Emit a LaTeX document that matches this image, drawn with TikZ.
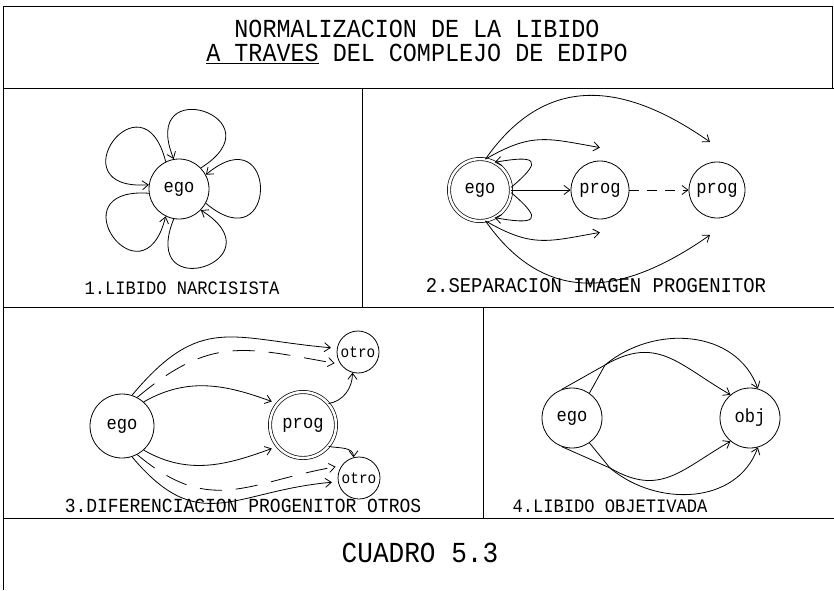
\documentclass[tikz,border=0pt]{standalone}
\usepackage{fontspec}
\newfontfamily\plotter[FakeStretch=0.9]{Liberation Mono}
\usetikzlibrary{arrows.meta,positioning,calc}

\begin{document}
\begin{tikzpicture}[x=1pt,y=1pt,line width=0.8pt,>={Straight Barb[length=6pt,width=9pt]},
	circ/.style={draw,circle,inner sep=0pt,minimum size=60pt,font=\plotter\fontsize{19}{19}\selectfont},
	dcirc/.style={circ,double,double distance=2.5pt,line width=0.7pt},
	small/.style={circ,minimum size=42pt,font=\plotter\fontsize{16}{16}\selectfont},
	lbl/.style={font=\plotter\fontsize{19}{20}\selectfont},
	ttl/.style={font=\plotter\fontsize{26}{27}\selectfont},
	frame/.style={line width=1pt}]
			\useasboundingbox (0,0) rectangle (834,-590);
			\draw[line width=0.6pt] (3,-590) -- (3,-6);
			\draw[frame] (3,-6) -- (832,-6) -- (832,-88);
			\draw[frame] (3,-88) -- (834,-88);
			\draw[frame] (3,-307) -- (834,-307);
			\draw[frame] (3,-518) -- (834,-518);
			\draw[frame] (362,-88) -- (362,-307);
			\draw[frame] (483,-307) -- (483,-518);
			\node[ttl] (t1) at (417,-29) {NORMALIZACION DE LA LIBIDO};
			\node[ttl] (t2) at (417,-54) {\underline{A TRAVES} DEL COMPLEJO DE EDIPO};
			\node[ttl,font=\plotter\fontsize{29}{30}\selectfont] (cuadro) at (420,-553) {CUADRO 5.3};
			% 1
			\node[circ] (ego1) at (179,-189) {ego};
			\foreach \a/\b in {-28/28,44/100,116/172,188/244,260/316}
			\draw[->] (ego1.\a) .. controls +(\a-12:95) and +(\b+12:95) .. (ego1.\b);
			\node[lbl] (l1) at (182,-288) {1.LIBIDO NARCISISTA};
			% 2
			\node[dcirc,minimum size=62pt] (ego2) at (480,-190) {ego};
			\node[circ,minimum size=58pt] (prog2a) at (600,-190) {prog};
			\node[circ,minimum size=56pt] (prog2b) at (717,-190) {prog};
			\coordinate[above=13pt of prog2a] (p2a);
			\coordinate[below=13pt of prog2a] (p2c);
			\coordinate (p2b) at ($(prog2b)+(-7,48)$);
			\coordinate (p2d) at ($(prog2b)+(-7,-45)$);
			\draw[->] (ego2) -- (prog2a);
			\draw[->,dash pattern=on 10pt off 8pt] (prog2a) -- (prog2b);
			\draw[->] (ego2.5) .. controls +(40:45) and +(10:40) .. (ego2.62);
			\draw[->] (ego2.-5) .. controls +(-40:45) and +(-10:40) .. (ego2.-62);
			\draw[->] (ego2.80) to[out=30,in=170,looseness=1.2] (p2a);
			\draw[->] (ego2.80) to[out=55,in=145,looseness=1.2] (p2b);
			\draw[->] (ego2.-80) to[out=-30,in=-170,looseness=1.2] (p2c);
			\draw[->] (ego2.-80) to[out=-55,in=-145,looseness=1.2] (p2d);
			\node[lbl,font=\plotter\fontsize{21}{22}\selectfont] (l2) at (596,-286) {2.SEPARACION IMAGEN PROGENITOR};
			% 3
			\node[circ,minimum size=64pt] (ego3) at (122,-426) {ego};
			\node[dcirc,minimum size=66pt] (prog3) at (303,-425) {prog};
			\node[small] (otro3a) at (358,-352) {otro};
			\node[small] (otro3b) at (359,-478) {otro};
			\draw[->,shorten >=6pt] (ego3.72) to[out=50,in=175,looseness=1.3] (otro3a.170);
			\draw[->,shorten >=6pt,dash pattern=on 22pt off 14pt] (ego3.62) to[out=40,in=170,looseness=1.2] (otro3a.215);
			\draw[->,shorten >=6pt] (ego3.48) to[out=30,in=160] (prog3.140);
			\draw[->] (prog3.40) to[out=10,in=-90] (otro3a.-105);
			\draw[->] (prog3.-40) to[out=-10,in=90] (otro3b.105);
			\draw[->,shorten >=6pt] (ego3.-48) to[out=-30,in=-160] (prog3.-140);
			\draw[->,shorten >=6pt,dash pattern=on 22pt off 14pt] (ego3.-62) to[out=-40,in=-170,looseness=1.2] (otro3b.145);
			\draw[->,shorten >=6pt] (ego3.-72) to[out=-50,in=-175,looseness=1.3] (otro3b.-170);
			\node[lbl,font=\plotter\fontsize{20}{21}\selectfont] (l3) at (243,-506) {3.DIFERENCIACION PROGENITOR OTROS};
			% 4
			\node[circ] (ego4) at (572,-418) {ego};
			\node[circ] (obj4) at (750,-418) {obj};
			\coordinate (j4a) at ($(ego4)+(33,53)$);
			\coordinate (j4b) at ($(ego4)+(38,-50)$);
			\draw (ego4.110) -- (j4a);
			\draw (ego4.55) -- (j4a);
			\draw (ego4.-110) -- (j4b);
			\draw (ego4.-55) -- (j4b);
			\draw[->] (j4a) to[out=40,in=110,looseness=1.05] (obj4.75);
			\draw[->] (j4a) to[out=30,in=150,looseness=1.2] (obj4.130);
			\draw[->] (j4b) to[out=-40,in=-110,looseness=1.05] (obj4.-75);
			\draw[->] (j4b) to[out=-30,in=-150,looseness=1.2] (obj4.-130);
			\node[lbl] (l4) at (610,-506) {4.LIBIDO OBJETIVADA};
\end{tikzpicture}
\end{document}
